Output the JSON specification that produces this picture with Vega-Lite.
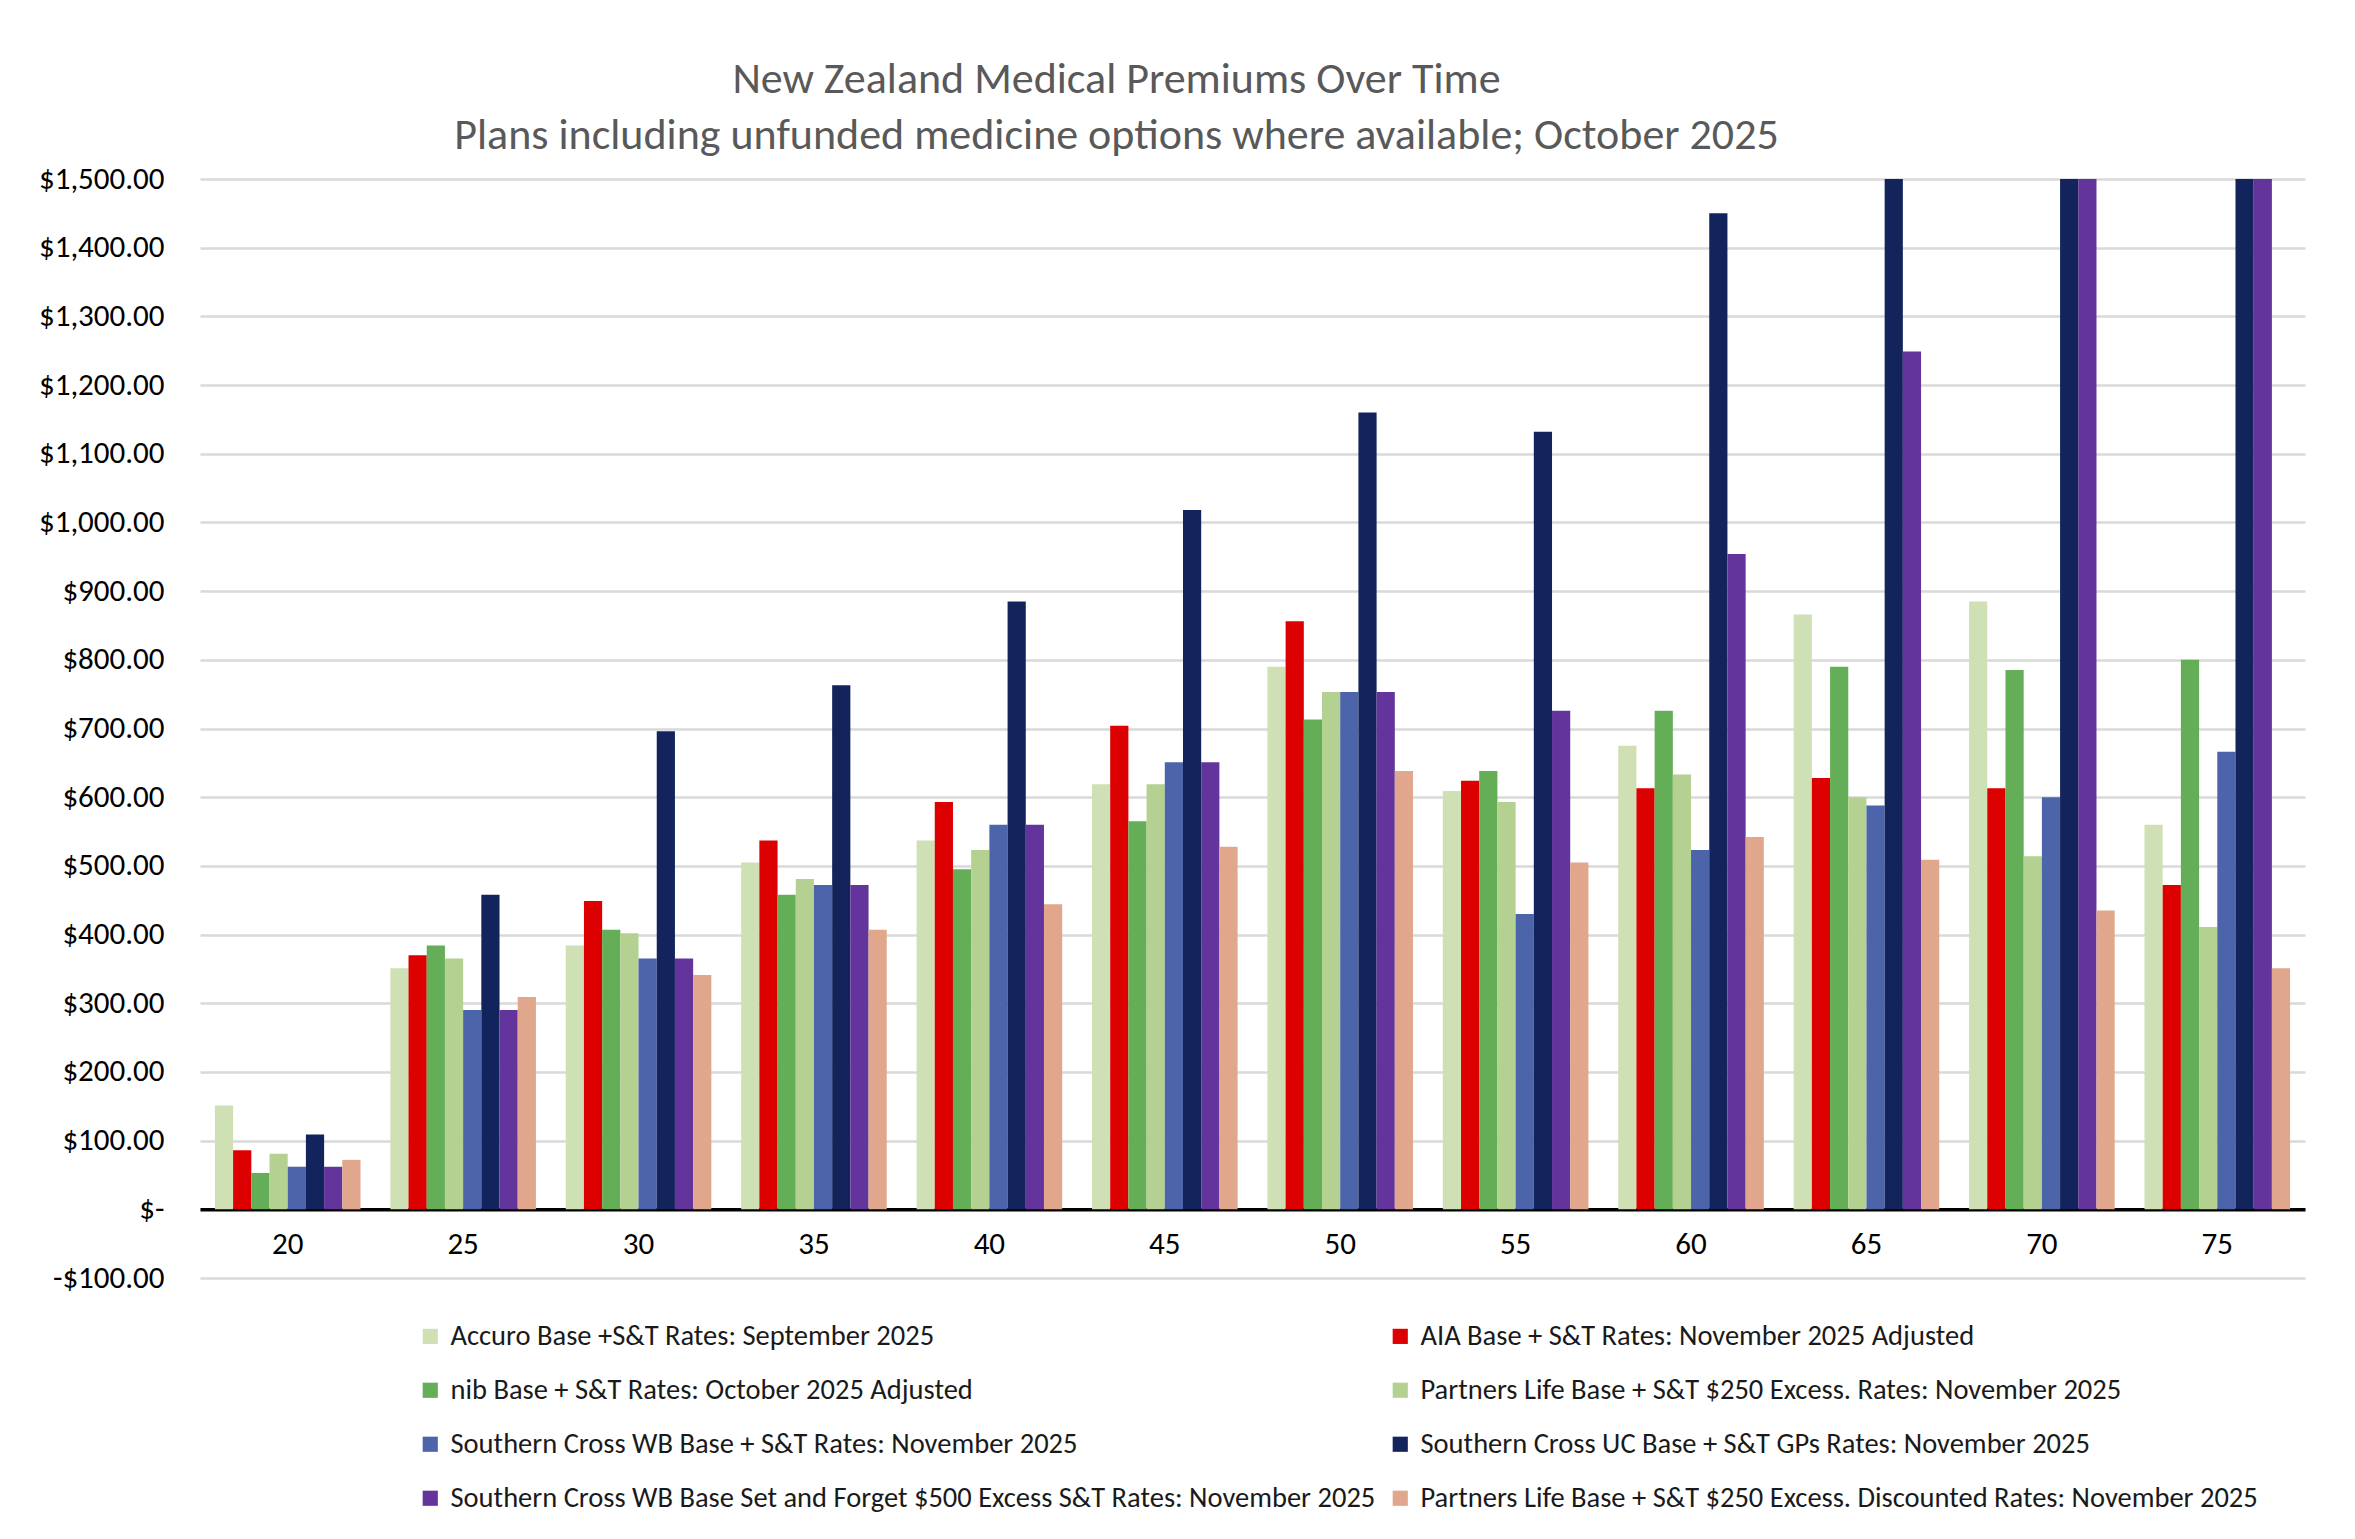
{
  "$schema": "https://vega.github.io/schema/vega-lite/v6.json",
  "width": 2105,
  "height": 1099,
  "autosize": {"type": "none"},
  "padding": {"left": 200, "top": 179, "right": 50, "bottom": 261},
  "background": "white",
  "title": {
    "text": ["New Zealand Medical Premiums Over Time", "Plans including  unfunded  medicine  options where available; October 2025"],
    "font": "Calibri, Carlito, Lato, sans-serif",
    "fontSize": 44,
    "fontWeight": "normal",
    "color": "#595959",
    "lineHeight": 56,
    "anchor": "middle",
    "dx": -136,
    "offset": 5
  },
  "data": {
    "values": [
      {"age": 20, "plan": "Accuro Base +S&T Rates: September 2025", "premium": 151},
      {"age": 20, "plan": "AIA Base + S&T Rates: November 2025 Adjusted", "premium": 86},
      {"age": 20, "plan": "nib Base + S&T Rates: October 2025 Adjusted", "premium": 53},
      {"age": 20, "plan": "Partners Life Base + S&T $250 Excess. Rates: November 2025", "premium": 81},
      {"age": 20, "plan": "Southern Cross WB Base + S&T Rates: November 2025", "premium": 62},
      {"age": 20, "plan": "Southern Cross UC Base + S&T GPs Rates: November 2025", "premium": 109},
      {"age": 20, "plan": "Southern Cross WB Base Set and Forget $500 Excess S&T Rates: November 2025", "premium": 62},
      {"age": 20, "plan": "Partners Life Base + S&T $250 Excess. Discounted Rates: November 2025", "premium": 72},

      {"age": 25, "plan": "Accuro Base +S&T Rates: September 2025", "premium": 351},
      {"age": 25, "plan": "AIA Base + S&T Rates: November 2025 Adjusted", "premium": 370},
      {"age": 25, "plan": "nib Base + S&T Rates: October 2025 Adjusted", "premium": 384},
      {"age": 25, "plan": "Partners Life Base + S&T $250 Excess. Rates: November 2025", "premium": 365},
      {"age": 25, "plan": "Southern Cross WB Base + S&T Rates: November 2025", "premium": 290},
      {"age": 25, "plan": "Southern Cross UC Base + S&T GPs Rates: November 2025", "premium": 458},
      {"age": 25, "plan": "Southern Cross WB Base Set and Forget $500 Excess S&T Rates: November 2025", "premium": 290},
      {"age": 25, "plan": "Partners Life Base + S&T $250 Excess. Discounted Rates: November 2025", "premium": 309},

      {"age": 30, "plan": "Accuro Base +S&T Rates: September 2025", "premium": 384},
      {"age": 30, "plan": "AIA Base + S&T Rates: November 2025 Adjusted", "premium": 449},
      {"age": 30, "plan": "nib Base + S&T Rates: October 2025 Adjusted", "premium": 407},
      {"age": 30, "plan": "Partners Life Base + S&T $250 Excess. Rates: November 2025", "premium": 402},
      {"age": 30, "plan": "Southern Cross WB Base + S&T Rates: November 2025", "premium": 365},
      {"age": 30, "plan": "Southern Cross UC Base + S&T GPs Rates: November 2025", "premium": 696},
      {"age": 30, "plan": "Southern Cross WB Base Set and Forget $500 Excess S&T Rates: November 2025", "premium": 365},
      {"age": 30, "plan": "Partners Life Base + S&T $250 Excess. Discounted Rates: November 2025", "premium": 341},

      {"age": 35, "plan": "Accuro Base +S&T Rates: September 2025", "premium": 505},
      {"age": 35, "plan": "AIA Base + S&T Rates: November 2025 Adjusted", "premium": 537},
      {"age": 35, "plan": "nib Base + S&T Rates: October 2025 Adjusted", "premium": 458},
      {"age": 35, "plan": "Partners Life Base + S&T $250 Excess. Rates: November 2025", "premium": 481},
      {"age": 35, "plan": "Southern Cross WB Base + S&T Rates: November 2025", "premium": 472},
      {"age": 35, "plan": "Southern Cross UC Base + S&T GPs Rates: November 2025", "premium": 763},
      {"age": 35, "plan": "Southern Cross WB Base Set and Forget $500 Excess S&T Rates: November 2025", "premium": 472},
      {"age": 35, "plan": "Partners Life Base + S&T $250 Excess. Discounted Rates: November 2025", "premium": 407},

      {"age": 40, "plan": "Accuro Base +S&T Rates: September 2025", "premium": 537},
      {"age": 40, "plan": "AIA Base + S&T Rates: November 2025 Adjusted", "premium": 593},
      {"age": 40, "plan": "nib Base + S&T Rates: October 2025 Adjusted", "premium": 495},
      {"age": 40, "plan": "Partners Life Base + S&T $250 Excess. Rates: November 2025", "premium": 523},
      {"age": 40, "plan": "Southern Cross WB Base + S&T Rates: November 2025", "premium": 560},
      {"age": 40, "plan": "Southern Cross UC Base + S&T GPs Rates: November 2025", "premium": 885},
      {"age": 40, "plan": "Southern Cross WB Base Set and Forget $500 Excess S&T Rates: November 2025", "premium": 560},
      {"age": 40, "plan": "Partners Life Base + S&T $250 Excess. Discounted Rates: November 2025", "premium": 444},

      {"age": 45, "plan": "Accuro Base +S&T Rates: September 2025", "premium": 619},
      {"age": 45, "plan": "AIA Base + S&T Rates: November 2025 Adjusted", "premium": 704},
      {"age": 45, "plan": "nib Base + S&T Rates: October 2025 Adjusted", "premium": 565},
      {"age": 45, "plan": "Partners Life Base + S&T $250 Excess. Rates: November 2025", "premium": 619},
      {"age": 45, "plan": "Southern Cross WB Base + S&T Rates: November 2025", "premium": 651},
      {"age": 45, "plan": "Southern Cross UC Base + S&T GPs Rates: November 2025", "premium": 1018},
      {"age": 45, "plan": "Southern Cross WB Base Set and Forget $500 Excess S&T Rates: November 2025", "premium": 651},
      {"age": 45, "plan": "Partners Life Base + S&T $250 Excess. Discounted Rates: November 2025", "premium": 528},

      {"age": 50, "plan": "Accuro Base +S&T Rates: September 2025", "premium": 790},
      {"age": 50, "plan": "AIA Base + S&T Rates: November 2025 Adjusted", "premium": 856},
      {"age": 50, "plan": "nib Base + S&T Rates: October 2025 Adjusted", "premium": 713},
      {"age": 50, "plan": "Partners Life Base + S&T $250 Excess. Rates: November 2025", "premium": 753},
      {"age": 50, "plan": "Southern Cross WB Base + S&T Rates: November 2025", "premium": 753},
      {"age": 50, "plan": "Southern Cross UC Base + S&T GPs Rates: November 2025", "premium": 1160},
      {"age": 50, "plan": "Southern Cross WB Base Set and Forget $500 Excess S&T Rates: November 2025", "premium": 753},
      {"age": 50, "plan": "Partners Life Base + S&T $250 Excess. Discounted Rates: November 2025", "premium": 638},

      {"age": 55, "plan": "Accuro Base +S&T Rates: September 2025", "premium": 609},
      {"age": 55, "plan": "AIA Base + S&T Rates: November 2025 Adjusted", "premium": 624},
      {"age": 55, "plan": "nib Base + S&T Rates: October 2025 Adjusted", "premium": 638},
      {"age": 55, "plan": "Partners Life Base + S&T $250 Excess. Rates: November 2025", "premium": 593},
      {"age": 55, "plan": "Southern Cross WB Base + S&T Rates: November 2025", "premium": 430},
      {"age": 55, "plan": "Southern Cross UC Base + S&T GPs Rates: November 2025", "premium": 1132},
      {"age": 55, "plan": "Southern Cross WB Base Set and Forget $500 Excess S&T Rates: November 2025", "premium": 726},
      {"age": 55, "plan": "Partners Life Base + S&T $250 Excess. Discounted Rates: November 2025", "premium": 505},

      {"age": 60, "plan": "Accuro Base +S&T Rates: September 2025", "premium": 675},
      {"age": 60, "plan": "AIA Base + S&T Rates: November 2025 Adjusted", "premium": 613},
      {"age": 60, "plan": "nib Base + S&T Rates: October 2025 Adjusted", "premium": 726},
      {"age": 60, "plan": "Partners Life Base + S&T $250 Excess. Rates: November 2025", "premium": 633},
      {"age": 60, "plan": "Southern Cross WB Base + S&T Rates: November 2025", "premium": 523},
      {"age": 60, "plan": "Southern Cross UC Base + S&T GPs Rates: November 2025", "premium": 1450},
      {"age": 60, "plan": "Southern Cross WB Base Set and Forget $500 Excess S&T Rates: November 2025", "premium": 954},
      {"age": 60, "plan": "Partners Life Base + S&T $250 Excess. Discounted Rates: November 2025", "premium": 542},

      {"age": 65, "plan": "Accuro Base +S&T Rates: September 2025", "premium": 866},
      {"age": 65, "plan": "AIA Base + S&T Rates: November 2025 Adjusted", "premium": 628},
      {"age": 65, "plan": "nib Base + S&T Rates: October 2025 Adjusted", "premium": 790},
      {"age": 65, "plan": "Partners Life Base + S&T $250 Excess. Rates: November 2025", "premium": 600},
      {"age": 65, "plan": "Southern Cross WB Base + S&T Rates: November 2025", "premium": 588},
      {"age": 65, "plan": "Southern Cross UC Base + S&T GPs Rates: November 2025", "premium": 1720},
      {"age": 65, "plan": "Southern Cross WB Base Set and Forget $500 Excess S&T Rates: November 2025", "premium": 1249},
      {"age": 65, "plan": "Partners Life Base + S&T $250 Excess. Discounted Rates: November 2025", "premium": 509},

      {"age": 70, "plan": "Accuro Base +S&T Rates: September 2025", "premium": 885},
      {"age": 70, "plan": "AIA Base + S&T Rates: November 2025 Adjusted", "premium": 613},
      {"age": 70, "plan": "nib Base + S&T Rates: October 2025 Adjusted", "premium": 785},
      {"age": 70, "plan": "Partners Life Base + S&T $250 Excess. Rates: November 2025", "premium": 514},
      {"age": 70, "plan": "Southern Cross WB Base + S&T Rates: November 2025", "premium": 600},
      {"age": 70, "plan": "Southern Cross UC Base + S&T GPs Rates: November 2025", "premium": 1950},
      {"age": 70, "plan": "Southern Cross WB Base Set and Forget $500 Excess S&T Rates: November 2025", "premium": 1650},
      {"age": 70, "plan": "Partners Life Base + S&T $250 Excess. Discounted Rates: November 2025", "premium": 435},

      {"age": 75, "plan": "Accuro Base +S&T Rates: September 2025", "premium": 560},
      {"age": 75, "plan": "AIA Base + S&T Rates: November 2025 Adjusted", "premium": 472},
      {"age": 75, "plan": "nib Base + S&T Rates: October 2025 Adjusted", "premium": 800},
      {"age": 75, "plan": "Partners Life Base + S&T $250 Excess. Rates: November 2025", "premium": 411},
      {"age": 75, "plan": "Southern Cross WB Base + S&T Rates: November 2025", "premium": 666},
      {"age": 75, "plan": "Southern Cross UC Base + S&T GPs Rates: November 2025", "premium": 2150},
      {"age": 75, "plan": "Southern Cross WB Base Set and Forget $500 Excess S&T Rates: November 2025", "premium": 1850},
      {"age": 75, "plan": "Partners Life Base + S&T $250 Excess. Discounted Rates: November 2025", "premium": 351}
    ]
  },
  "mark": {"type": "bar", "clip": true},
  "encoding": {
    "x": {
      "field": "age",
      "type": "ordinal",
      "scale": {"paddingInner": 0.17, "paddingOuter": 0.085},
      "axis": {
        "title": null,
        "labelAngle": 0,
        "labelFont": "Calibri, Carlito, Lato, sans-serif",
        "labelFontSize": 31,
        "labelColor": "#000000",
        "labelPadding": 20,
        "ticks": false,
        "grid": false,
        "domainColor": "#000000",
        "domainWidth": 3.5,
        "offset": -68.7
      }
    },
    "xOffset": {
      "field": "plan",
      "type": "nominal",
      "sort": [
        "Accuro Base +S&T Rates: September 2025",
        "AIA Base + S&T Rates: November 2025 Adjusted",
        "nib Base + S&T Rates: October 2025 Adjusted",
        "Partners Life Base + S&T $250 Excess. Rates: November 2025",
        "Southern Cross WB Base + S&T Rates: November 2025",
        "Southern Cross UC Base + S&T GPs Rates: November 2025",
        "Southern Cross WB Base Set and Forget $500 Excess S&T Rates: November 2025",
        "Partners Life Base + S&T $250 Excess. Discounted Rates: November 2025"
      ],
      "scale": {"paddingInner": 0, "paddingOuter": 0}
    },
    "y": {
      "field": "premium",
      "type": "quantitative",
      "scale": {"domain": [-100, 1500], "nice": false, "zero": false},
      "axis": {
        "title": null,
        "values": [-100, 0, 100, 200, 300, 400, 500, 600, 700, 800, 900, 1000, 1100, 1200, 1300, 1400, 1500],
        "labelExpr": "datum.value == 0 ? '$-' : (datum.value < 0 ? '-$' + format(-datum.value, ',.2f') : '$' + format(datum.value, ',.2f'))",
        "labelFont": "Calibri, Carlito, Lato, sans-serif",
        "labelFontSize": 31,
        "labelColor": "#000000",
        "labelPadding": 36,
        "ticks": false,
        "domain": false,
        "grid": true,
        "gridColor": "#d9d9d9",
        "gridWidth": 2.5
      }
    },
    "color": {
      "field": "plan",
      "type": "nominal",
      "scale": {
        "domain": [
          "Accuro Base +S&T Rates: September 2025",
          "AIA Base + S&T Rates: November 2025 Adjusted",
          "nib Base + S&T Rates: October 2025 Adjusted",
          "Partners Life Base + S&T $250 Excess. Rates: November 2025",
          "Southern Cross WB Base + S&T Rates: November 2025",
          "Southern Cross UC Base + S&T GPs Rates: November 2025",
          "Southern Cross WB Base Set and Forget $500 Excess S&T Rates: November 2025",
          "Partners Life Base + S&T $250 Excess. Discounted Rates: November 2025"
        ],
        "range": ["#cfe0b5", "#dc0000", "#63ae56", "#b4d192", "#4b64aa", "#13245c", "#63349b", "#e0a78c"]
      },
      "legend": {
        "title": null,
        "orient": "none",
        "direction": "horizontal",
        "legendX": 216,
        "legendY": 1143,
        "columns": 2,
        "padding": 0,
        "labelFont": "Calibri, Carlito, Lato, sans-serif",
        "labelFontSize": 28.5,
        "labelColor": "#1a1a1a",
        "labelLimit": 1300,
        "labelOffset": 6,
        "symbolType": "square",
        "symbolSize": 230,
        "symbolStrokeWidth": 0,
        "rowPadding": 25,
        "columnPadding": 10
      }
    }
  },
  "config": {"view": {"stroke": null}}
}
